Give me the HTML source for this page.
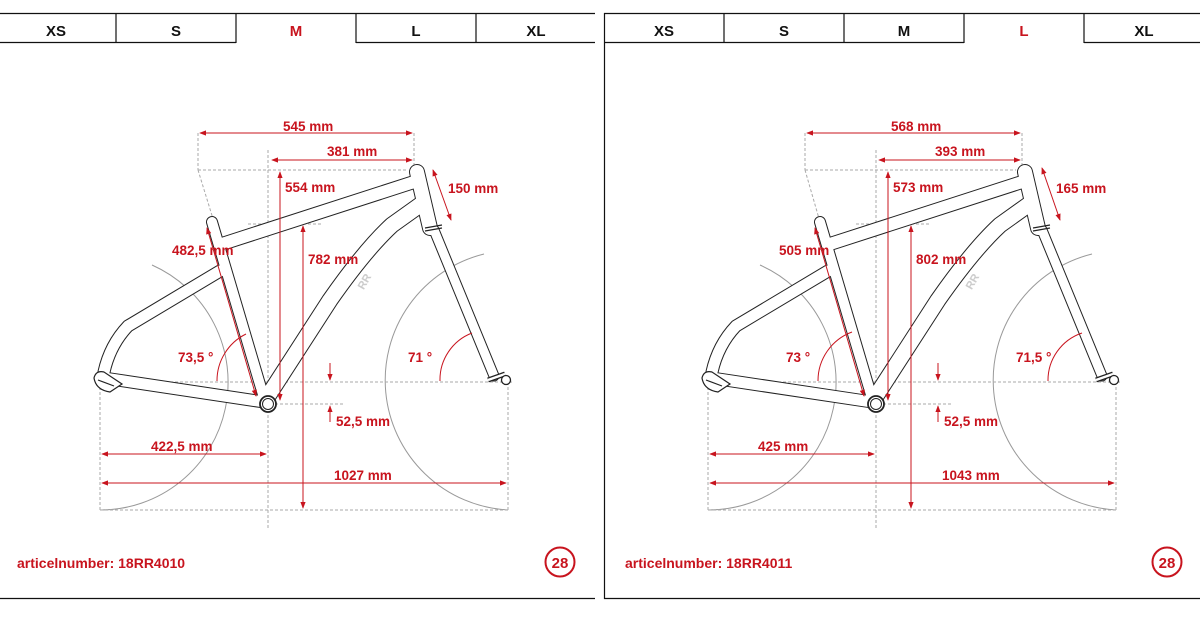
<!DOCTYPE html>
<html><head><meta charset="utf-8"><style>
html,body{margin:0;padding:0;background:#fff;width:1200px;height:619px;overflow:hidden}
svg{display:block}
text{font-family:"Liberation Sans",sans-serif;font-weight:bold}
.tab{font-size:15px;fill:#111;text-anchor:middle}
.lab{font-size:13.5px;fill:#c8141e}
.dim{stroke:#c8141e;stroke-width:1;fill:none}
.dd{stroke:#c8141e;stroke-width:1;fill:none;marker-start:url(#a);marker-end:url(#a)}
.de{stroke:#c8141e;stroke-width:1;fill:none;marker-end:url(#a)}
.dash{stroke:#aaa;stroke-width:1;stroke-dasharray:3 2;fill:none}
.wh{stroke:#999;stroke-width:1;fill:none}
</style></head><body>
<svg width="1200" height="619" viewBox="0 0 1200 619" xmlns="http://www.w3.org/2000/svg">
<defs>
<marker id="a" viewBox="0 0 8 8" refX="7" refY="4" markerWidth="7" markerHeight="7" orient="auto-start-reverse"><path d="M0,1 L8,4 L0,7z" fill="#c8141e"/></marker>
<g id="frame">
 <g stroke="#222" stroke-linecap="round" stroke-linejoin="round" fill="none">
  <path d="M212,222 L264,398" stroke-width="12"/>
  <path d="M222,244 L414,182" stroke-width="14"/>
  <path d="M417,172 L430,228" stroke-width="16"/>
  <path d="M268,396 L330,300 Q365,250 392,225 L420,205" stroke-width="17"/>
  <path d="M434,230 L494,376" stroke-width="11"/>
  <path d="M220,271 L128,326 Q110,345 104,372" stroke-width="13"/>
  <path d="M104,378 L264,402" stroke-width="13"/>
 </g>
 <g stroke="#fff" stroke-linecap="round" stroke-linejoin="round" fill="none">
  <path d="M212,222 L264,398" stroke-width="10"/>
  <path d="M222,244 L414,182" stroke-width="12"/>
  <path d="M417,172 L430,228" stroke-width="14"/>
  <path d="M268,396 L330,300 Q365,250 392,225 L420,205" stroke-width="15"/>
  <path d="M434,230 L494,376" stroke-width="9"/>
  <path d="M220,271 L128,326 Q110,345 104,372" stroke-width="11"/>
  <path d="M104,378 L264,402" stroke-width="11"/>
 </g>
 <path d="M425,228 L442,225 M425,231 L442,228" stroke="#222" stroke-width="1.2"/>
 <path d="M94,378 Q96,370 104,372 L122,384 L110,392 Q96,390 94,378z" fill="#fff" stroke="#222" stroke-width="1.2"/>
 <path d="M98,380 L114,386" stroke="#222" stroke-width="1.2"/>
 <circle cx="268" cy="404" r="8" fill="#fff" stroke="#222" stroke-width="1.8"/>
 <circle cx="268" cy="404" r="5.5" fill="none" stroke="#222" stroke-width="1"/>
 <path d="M488,380 L505,374" stroke="#222" stroke-width="5"/><path d="M488,380 L505,374" stroke="#fff" stroke-width="2.5"/>
 <circle cx="506" cy="380" r="4.5" fill="#fff" stroke="#222" stroke-width="1.3"/>
 <text x="352" y="290" font-size="11" fill="#ccc" transform="rotate(-60 358 280)">RR</text>
</g>
</defs>

<!-- LEFT PANEL -->
<g stroke="#111" stroke-width="1.2" fill="none">
 <path d="M0,13.5 H595 M0,42.5 H236 M356,42.5 H595 M116,13 V42 M236,13 V43 M356,13 V43 M476,13 V42"/>
 <path d="M0,598.5 H595"/>
</g>
<text class="tab" x="56" y="36">XS</text><text class="tab" x="176" y="36">S</text>
<text class="tab" x="296" y="36" style="fill:#c8141e">M</text><text class="tab" x="416" y="36">L</text><text class="tab" x="536" y="36">XL</text>

<g>
 <path class="wh" d="M100,510 A128,128 0 0 0 152,265"/>
 <path class="wh" d="M508,510 A130,130 0 0 1 484,254"/>
 <path class="dash" d="M100,382 H512 M100,382 V510 M508,382 V510 M100,510 H508 M198,133 V170 M414,133 V172 M198,170 H408 M268,150 V530 M198,170 L214,222 M248,224 H323 M270,404 H345"/>
 <use href="#frame"/>
 <path class="dd" d="M200,133 H412"/>
 <path class="dd" d="M272,160 H412"/>
 <path class="dd" d="M280,172 V400"/>
 <path class="dd" d="M303,226 V508"/>
 <path class="dd" d="M433,170 L451,220"/>
 <path class="dd" d="M207,228 L256,396"/>
 <path class="dd" d="M102,454 H266"/>
 <path class="dd" d="M102,483 H506"/>
 <path class="de" d="M330,363 V380"/>
 <path class="de" d="M330,422 V406"/>
 <path class="dim" d="M246,334 A52,52 0 0 0 217,381 M472,333 A50,50 0 0 0 440,381"/>
 <text class="lab" x="283" y="131">545 mm</text>
 <text class="lab" x="327" y="156">381 mm</text>
 <text class="lab" x="285" y="192">554 mm</text>
 <text class="lab" x="448" y="193">150 mm</text>
 <text class="lab" x="172" y="255">482,5 mm</text>
 <text class="lab" x="308" y="264">782 mm</text>
 <text class="lab" x="178" y="362">73,5 °</text>
 <text class="lab" x="408" y="362">71 °</text>
 <text class="lab" x="336" y="426">52,5 mm</text>
 <text class="lab" x="151" y="451">422,5 mm</text>
 <text class="lab" x="334" y="480">1027 mm</text>
</g>
<text class="lab" x="17" y="568" style="font-size:14px">articelnumber: 18RR4010</text>
<circle cx="560" cy="562" r="14.5" fill="none" stroke="#c8141e" stroke-width="2"/>
<text x="560" y="568" text-anchor="middle" style="font-size:15px;fill:#c8141e">28</text>

<!-- RIGHT PANEL -->
<g stroke="#111" stroke-width="1.2" fill="none">
 <path d="M604,13.5 H1200 M604,42.5 H964 M1084,42.5 H1200 M724,13 V42 M844,13 V42 M964,13 V43 M1084,13 V43"/>
 <path d="M604.5,13 V598.5 H1200"/>
</g>
<text class="tab" x="664" y="36">XS</text><text class="tab" x="784" y="36">S</text>
<text class="tab" x="904" y="36">M</text><text class="tab" x="1024" y="36" style="fill:#c8141e">L</text><text class="tab" x="1144" y="36">XL</text>

<g>
 <path class="wh" d="M708,510 A128,128 0 0 0 760,265"/>
 <path class="wh" d="M1116,510 A130,130 0 0 1 1092,254"/>
 <path class="dash" d="M708,382 H1120 M708,382 V510 M1116,382 V510 M708,510 H1116 M805,133 V170 M1022,133 V170 M805,170 H1016 M876,150 V530 M805,170 L820,222 M856,224 H931 M878,404 H953"/>
 <use href="#frame" transform="translate(608,0)"/>
 <path class="dd" d="M807,133 H1020"/>
 <path class="dd" d="M879,160 H1020"/>
 <path class="dd" d="M888,172 V400"/>
 <path class="dd" d="M911,226 V508"/>
 <path class="dd" d="M1042,168 L1060,220"/>
 <path class="dd" d="M815,228 L864,396"/>
 <path class="dd" d="M710,454 H874"/>
 <path class="dd" d="M710,483 H1114"/>
 <path class="de" d="M938,363 V380"/>
 <path class="de" d="M938,422 V406"/>
 <path class="dim" d="M852,332 A52,52 0 0 0 818,381 M1082,333 A50,50 0 0 0 1048,381"/>
 <text class="lab" x="891" y="131">568 mm</text>
 <text class="lab" x="935" y="156">393 mm</text>
 <text class="lab" x="893" y="192">573 mm</text>
 <text class="lab" x="1056" y="193">165 mm</text>
 <text class="lab" x="779" y="255">505 mm</text>
 <text class="lab" x="916" y="264">802 mm</text>
 <text class="lab" x="786" y="362">73 °</text>
 <text class="lab" x="1016" y="362">71,5 °</text>
 <text class="lab" x="944" y="426">52,5 mm</text>
 <text class="lab" x="758" y="451">425 mm</text>
 <text class="lab" x="942" y="480">1043 mm</text>
</g>
<text class="lab" x="625" y="568" style="font-size:14px">articelnumber: 18RR4011</text>
<circle cx="1167" cy="562" r="14.5" fill="none" stroke="#c8141e" stroke-width="2"/>
<text x="1167" y="568" text-anchor="middle" style="font-size:15px;fill:#c8141e">28</text>
</svg>
</body></html>
